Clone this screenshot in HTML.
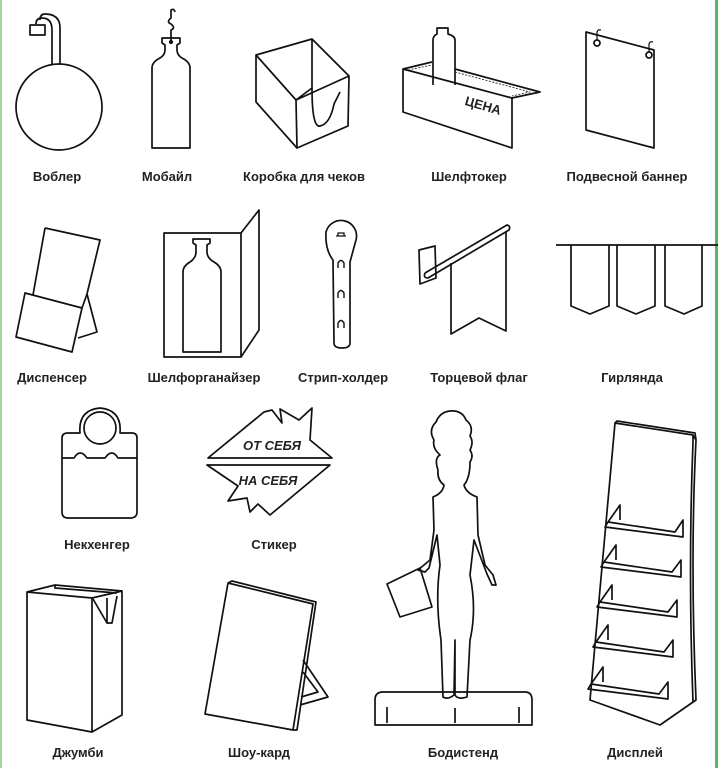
<!DOCTYPE html>
<html><head><meta charset="utf-8"><style>
html,body{margin:0;padding:0;background:#fff;width:718px;height:768px;overflow:hidden}
svg{display:block}
text{font-family:"Liberation Sans",sans-serif;font-weight:bold;font-size:13px;fill:#222;text-anchor:middle}
</style></head><body>
<svg width="718" height="768" viewBox="0 0 718 768" xmlns="http://www.w3.org/2000/svg">
<rect x="0" y="0" width="2" height="768" fill="#a9d6a0"/>
<rect x="715" y="0" width="3" height="768" fill="#5cb85c"/>
<g fill="none" stroke="#111" stroke-width="1.7" stroke-linejoin="round">
<!-- Воблер -->
<circle cx="59" cy="107" r="43"/>
<path d="M52 64 V30 Q52 18 42 18 Q36 18 36 24 M60 64 V28 Q60 14 45 14 Q40 14 40 20"/>
<rect x="30" y="25" width="15" height="10"/>
<!-- Мобайл -->
<path d="M152 148 V68 Q152 62 160 58 Q165 55 165 50 V45 L162 43 V38 H180 V43 L177 45 V50 Q177 55 182 58 Q190 62 190 68 V148 Z"/>
<path d="M171 40 V30 Q176 28 171 24 Q166 22 171 18 V10 Q174 8 175 12"/>
<circle cx="171" cy="42" r="1.3" fill="#111"/>
<!-- Коробка -->
<path d="M256 55 L312 39 L349 76 L348 126 L297 148 L256 102 Z"/>
<path d="M256 55 L296 100 L349 76 M296 100 L297 148 M312 39 L312 88 L296 100"/>
<path d="M312 88 Q312 128 320 126 Q330 124 334 104 L340 92"/>
<!-- Шелфтокер -->
<path d="M433 85 V40 Q433 36 437 34 V28 H448 V34 Q455 36 455 40 V85"/>
<path d="M403 69 L512 98 V148 L403 112 Z"/>
<path d="M403 69 L432 62 M455 69 L540 92 L512 98"/>
<path d="M408 70 L432 65 M455 72 L530 92 L512 96" stroke-width="0.8" stroke-dasharray="2 1.5"/>
<!-- Подвесной баннер -->
<path d="M586 32 L654 50 V148 L586 130 Z"/>
<circle cx="597" cy="43" r="3"/><circle cx="649" cy="55" r="3"/>
<path d="M597 40 V32 Q598 29 601 30 M649 52 V44 Q650 41 653 42" stroke-width="1.2"/>
<!-- Диспенсер -->
<path d="M45 228 L100 240 L87 294 M33 295 L45 228"/>
<path d="M25 293 L82 308 L72 352 L16 337 Z M82 308 L87 294"/>
<path d="M87 294 L97 332 L78 338"/>
<!-- Шелфорганайзер -->
<rect x="164" y="233" width="77" height="124"/>
<path d="M241 233 L259 210 V330 L241 357"/>
<path d="M183 352 V272 Q183 266 190 262 Q196 258 196 252 V245 L193 243 V239 H210 V243 L207 245 V252 Q207 258 214 262 Q221 266 221 272 V352 Z"/>
<!-- Стрип-холдер -->
<path d="M333 260 Q325 250 326 232 A15 15 0 1 1 356 240 L350 262 V343 Q350 348 342 348 Q334 348 334 343 Z"/>
<path d="M336 236 H346 M338 236 V233 H344 V236" stroke-width="1.3"/>
<path d="M338 268 V263 Q341 258 344 263 V268 M338 298 V293 Q341 288 344 293 V298 M338 328 V323 Q341 318 344 323 V328" stroke-width="1.4"/>
<!-- Торцевой флаг -->
<path d="M419 250 L435 246 L436 278 L420 284 Z"/>
<path d="M425 273 L507 225 Q511 226 509 230 L428 278 Q423 278 425 273"/>
<path d="M451 263 V334 L479 318 L506 331 V232"/>
<!-- Гирлянда -->
<path d="M556 245 H718"/>
<path d="M571 245 V306 L590 314 L609 306 V245 M617 245 V306 L636 314 L655 306 V245 M665 245 V306 L684 314 L702 306 V245"/>
<!-- Некхенгер -->
<path d="M80 433 Q78 410 100 408 Q122 410 120 433 H132 Q137 433 137 438 V512 Q137 518 130 518 H68 Q62 518 62 512 V438 Q62 433 68 433 Z"/>
<circle cx="100" cy="428" r="16"/>
<path d="M62 458 H74 Q80 448 87 458 H105 Q112 448 118 458 H137"/>
<!-- Стикер -->
<path d="M208 458 L264 412 L272 410 L282 423 L280 409 L299 420 L312 408 L310 440 L332 458 Z"/>
<path d="M207 465 H330 L270 515 L258 504 L250 512 L247 498 L228 501 L238 486 Z"/>
<!-- Джумби -->
<path d="M27 592 V720 L92 732 V598 Z M92 598 L122 591 V715 L92 732"/>
<path d="M27 592 L55 585 L122 591 M55 585 L55 588 L117 593"/>
<path d="M93 599 L107 623 L112 623 L117 596 M107 598 V623"/>
<!-- Шоу-кард -->
<path d="M228 583 L313 604 L293 730 L205 714 Z M228 583 L232 581 L316 602 L297 730 L293 730"/>
<path d="M303 660 L328 697 L300 705 M303 672 L318 692 L301 697"/>
<!-- Бодистенд -->
<path d="M375 725 V700 Q375 692 383 692 H525 Q532 692 532 700 V725 Z M387 707 V723 M455 708 V723 M519 707 V723"/>
<path d="M443 697 L441 640 Q435 600 440 565 L437 535 L429 568 L425 572 L418 570 L430 560 L434 530 L433 497 Q443 493 444 485 Q437 480 438 470 Q434 458 440 455 Q432 448 434 440 Q428 430 436 422 Q440 412 450 411 Q462 410 466 420 Q474 426 470 436 Q474 442 470 450 Q474 456 470 462 Q470 478 464 485 Q466 493 477 497 L478 535 L485 565 L493 575 L496 585 L492 585 L487 574 L474 540 L470 575 Q477 610 470 640 L467 697 Q458 700 455 695 L455 640 L454 695 Q448 700 443 697 Z"/>
<path d="M387 584 L420 568 L432 607 L400 617 Z"/>
<!-- Дисплей -->
<path d="M615 423 L693 435 L696 440 Q690 560 696 700 L660 725 L590 700 Z M693 435 V442 Q688 570 693 702"/>
<path d="M615 423 L617 421 L695 433 L696 440"/>
<path d="M608 522 L675 532 L683 520 V537 L605 527 Z M608 522 L620 505 V520"/>
<path d="M604 562 L672 572 L681 560 V577 L601 567 Z M604 562 L616 545 V560"/>
<path d="M600 602 L668 612 L677 600 V617 L597 607 Z M600 602 L612 585 V600"/>
<path d="M596 642 L664 652 L673 640 V657 L593 647 Z M596 642 L608 625 V640"/>
<path d="M591 684 L659 694 L668 682 V699 L588 689 Z M591 684 L603 667 V682"/>
</g>
<text x="57" y="181">Воблер</text>
<text x="167" y="181">Мобайл</text>
<text x="304" y="181">Коробка для чеков</text>
<text x="469" y="181">Шелфтокер</text>
<text x="627" y="181">Подвесной баннер</text>
<text x="52" y="382">Диспенсер</text>
<text x="204" y="382">Шелфорганайзер</text>
<text x="343" y="382">Стрип-холдер</text>
<text x="479" y="382">Торцевой флаг</text>
<text x="632" y="382">Гирлянда</text>
<text x="97" y="549">Некхенгер</text>
<text x="274" y="549">Стикер</text>
<text x="78" y="757">Джумби</text>
<text x="259" y="757">Шоу-кард</text>
<text x="463" y="757">Бодистенд</text>
<text x="635" y="757">Дисплей</text>
<text x="272" y="450" font-style="italic" font-size="12">ОТ СЕБЯ</text>
<text x="268" y="485" font-style="italic" font-size="12">НА СЕБЯ</text>
<text x="483" y="110" font-size="12" transform="rotate(16 483 106)">ЦЕНА</text>
</svg>
</body></html>
